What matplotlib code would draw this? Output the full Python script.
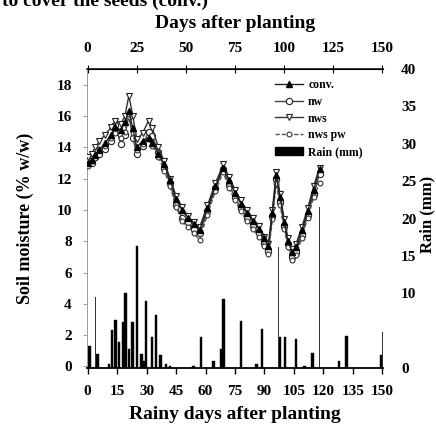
import matplotlib
matplotlib.use("Agg")
import matplotlib.pyplot as plt
from matplotlib.patches import Patch

# ---- data ----
days = [0, 2, 4, 6, 9, 12, 14, 17, 19, 21, 23, 25, 28, 31, 33, 36, 39, 42, 45, 48,
        51, 54, 57, 61, 65, 69, 72, 75, 78, 81, 84, 87, 90, 92, 94, 96, 98, 100,
        102, 104, 106, 109, 112, 115, 118]
conv = [13.0, 13.2, 13.5, 13.8, 14.3, 14.8, 15.3, 15.1, 15.6, 16.3, 15.2, 14.0, 14.4,
        14.6, 14.3, 13.6, 12.9, 11.9, 10.7, 10.0, 9.5, 9.1, 8.7, 10.1, 11.5, 12.7,
        11.9, 11.1, 10.4, 9.8, 9.3, 8.8, 8.2, 7.7, 9.8, 12.2, 10.8, 9.2, 8.0, 7.3,
        7.6, 8.7, 9.9, 11.3, 12.6]
nw = [13.2, 13.0, 13.4, 13.6, 13.9, 14.4, 15.4, 14.2, 14.8, 16.0, 14.6, 13.6, 14.1,
      15.0, 14.7, 13.7, 12.7, 11.7, 10.3, 9.5, 9.2, 8.8, 8.5, 9.9, 11.4, 12.6, 11.6,
      10.8, 10.1, 9.5, 9.0, 8.5, 7.9, 7.4, 9.6, 12.0, 10.5, 9.0, 7.8, 7.0, 7.3, 8.4,
      9.7, 11.0, 12.3]
nws = [13.4, 13.6, 14.0, 14.4, 14.8, 15.3, 15.7, 15.5, 16.0, 17.3, 16.0, 14.5, 14.9,
       15.7, 15.2, 14.0, 13.1, 12.0, 10.9, 10.2, 9.6, 9.2, 8.9, 10.3, 11.7, 12.9,
       12.1, 11.3, 10.6, 10.0, 9.5, 9.0, 8.3, 7.8, 10.0, 12.4, 11.0, 9.4, 8.2, 7.5,
       7.8, 8.9, 10.1, 11.5, 12.7]
nws_pw = [12.8, 13.1, 13.3, 13.9, 14.1, 14.6, 14.9, 14.6, 15.0, 16.1, 14.9, 13.8,
          14.2, 14.5, 14.1, 13.4, 12.5, 11.5, 10.2, 9.3, 8.9, 8.5, 8.1, 9.7, 11.2,
          12.4, 11.4, 10.6, 9.9, 9.3, 8.8, 8.3, 7.7, 7.2, 9.4, 11.7, 10.3, 8.8, 7.6,
          6.8, 7.1, 8.2, 9.5, 10.8, 11.7]

rain_days = [1, 5, 11, 12.5, 14.2, 16, 18, 19.3, 21, 22.8, 25.2, 27.4, 28.5, 29.7,
             32.8, 34.8, 37, 40, 42, 54, 57.6, 64, 67.8, 69.1, 78, 86, 88.7, 98,
             100.5, 106, 110.5, 114.4, 128, 131.6, 149.4]
rain_mm = [3.0, 1.9, 0.6, 5.1, 6.4, 3.5, 6.2, 10.1, 2.6, 6.2, 16.3, 1.9, 1.0, 8.9,
           4.1, 7.1, 1.7, 0.5, 0.3, 0.3, 4.2, 0.9, 2.6, 9.2, 6.3, 0.5, 5.2, 4.1,
           4.2, 3.9, 0.3, 2.0, 1.0, 4.3, 1.7]
thin_days = [4.2, 5.8, 97.1, 117.8, 150]
thin_mm = [9.5, 4.6, 16.2, 21.6, 4.8]

bottom_ticks = [0, 15, 30, 45, 60, 75, 90, 105, 120, 135, 150]
top_ticks = [0, 25, 50, 75, 100, 125, 150]
left_ticks = [0, 2, 4, 6, 8, 10, 12, 14, 16, 18]
right_ticks = [0, 10, 15, 20, 25, 30, 35, 40]

plt.rcParams['font.family'] = ['Liberation Serif', 'DejaVu Serif']
plt.rcParams['font.weight'] = 'bold'

fig = plt.figure(figsize=(4.36, 4.28), dpi=100)
W, H = 436, 428
x0, x1, yb, yt = 87, 383, 368, 69
ax = fig.add_axes([x0 / W, 1 - yb / H, (x1 - x0) / W, (yb - yt) / H])
ax2 = ax.twinx()

TICK_FS = 11
LABEL_FS = 14

# rain bars on right axis
ax2.bar(rain_days, rain_mm, width=1.3, color='black', edgecolor='black', lw=0.3, zorder=2)
ax2.bar(thin_days, thin_mm, width=0.45, color='#333333', lw=0, zorder=2)
ax2.set_ylim(0, 40)
ax2.set_yticks(right_ticks)
ax2.tick_params(axis='y', length=0, labelsize=TICK_FS, pad=13)
for s in ax2.spines.values():
    s.set_visible(False)
fig.text(427 / W, 1 - 214 / H, "Rain (mm)", rotation=90, fontsize=LABEL_FS - 2,
         fontweight='bold', ha='center', va='center')

# soil moisture on left axis (drawn above the bars)
ax.set_zorder(ax2.get_zorder() + 1)
ax.patch.set_visible(False)
l1, = ax.plot(days, conv, color='#222222', lw=1.0, marker='^', ms=4,
              mfc='black', mec='black', zorder=4)
l2, = ax.plot(days, nw, color='#444444', lw=1.0, marker='o', ms=4.5,
              mfc='white', mec='#222222', mew=0.8, zorder=3)
l3, = ax.plot(days, nws, color='#333333', lw=1.0, marker='v', ms=4,
              mfc='white', mec='#222222', mew=0.8, zorder=3)
l4, = ax.plot(days, nws_pw, color='#555555', lw=1.0, ls=(0, (3, 1.5)), marker='o',
              ms=3.5, mfc='white', mec='#333333', mew=0.8, zorder=3)

ax.set_xlim(-0.3, 150.3)
ax.set_ylim(-0.1, 19.0)
ax.set_yticks(left_ticks)
ax.set_xticks(bottom_ticks)
ax.tick_params(axis='y', direction='out', length=3, width=0.6, color='#888888',
               labelsize=TICK_FS, pad=8)
ax.tick_params(axis='x', direction='out', length=4, width=1.0, labelsize=TICK_FS, pad=8)
ax.set_ylabel("Soil moisture (% w/w)", fontsize=LABEL_FS - 1, fontweight='bold',
              labelpad=16)
ax.set_xlabel("Rainy days after planting", fontsize=LABEL_FS, fontweight='bold',
              labelpad=6)
ax.spines['right'].set_visible(False)
ax.spines['left'].set_color('#999999')
ax.spines['left'].set_linewidth(0.7)
ax.spines['bottom'].set_linewidth(1.3)
ax.spines['top'].set_linewidth(1.1)

# top axis: days after planting
axt = ax.secondary_xaxis('top')
axt.set_xticks(top_ticks)
axt.tick_params(axis='x', direction='inout', length=6, width=0.8, labelsize=TICK_FS,
                pad=7)
axt.set_xlabel("Days after planting", fontsize=LABEL_FS, fontweight='bold', labelpad=10)

# caption fragment partly cut at the top edge, as in the reference
fig.text(0.005, 0.997, "to cover the seeds (conv.)", fontsize=14, fontweight='bold',
         ha='left', va='center')

handles = [l1, l2, l3, l4, Patch(facecolor='black', edgecolor='black')]
labels = ["conv.", "nw", "nws", "nws pw", "Rain (mm)"]
ax.legend(handles, labels, loc='upper left',
          bbox_to_anchor=((268 - x0) / (x1 - x0), 0.99),
          frameon=False, handlelength=2.4, labelspacing=0.4,
          handletextpad=0.4, borderaxespad=0.2,
          prop={'weight': 'bold', 'size': 8.5})

fig.savefig("out.png", dpi=100)
